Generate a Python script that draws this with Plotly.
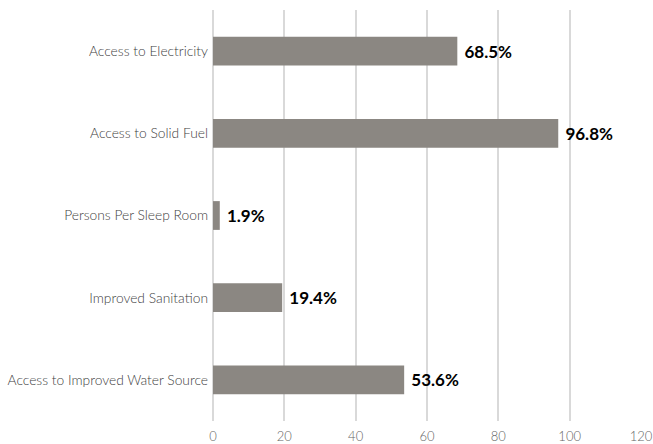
import plotly.graph_objects as go

categories = ["Access to Improved Water Source", "Improved Sanitation", "Persons Per Sleep Room",
              "Access to Solid Fuel", "Access to Electricity"]
values = [53.6, 19.4, 1.9, 96.8, 68.5]
tick_vals = [0, 20, 40, 60, 80, 100, 120]

fig = go.Figure()
fig.add_trace(go.Bar(
    y=categories, x=values, orientation="h",
    marker=dict(color="#8b8782", line=dict(width=0)),
    width=0.35,
    text=[f"{v}%" for v in values],
    texttemplate=" %{text}",
    textposition="outside",
    cliponaxis=False,
    textfont=dict(family="Lato, 'Open Sans', sans-serif", size=17, color="#000000", weight="bold"),
))
fig.update_layout(
    width=653, height=444,
    margin=dict(l=213, r=12, t=10, b=23, autoexpand=False),
    paper_bgcolor="white", plot_bgcolor="white",
    showlegend=False,
    font=dict(family="Lato, 'Open Sans', sans-serif", size=13.8, color="#404040", weight=300),
    bargap=0.65,
)
fig.update_xaxes(range=[0, 120], tickvals=tick_vals, showgrid=True, gridcolor="#d9d9d9",
                 gridwidth=2, zeroline=True, zerolinecolor="#d9d9d9", zerolinewidth=2,
                 showline=False, ticks="", automargin=False, ticklabelstandoff=6,
                 tickfont=dict(size=13, color="#666666", weight=300))
fig.update_yaxes(showgrid=False, zeroline=False, showline=False, ticks="", ticklabelstandoff=4,
                 automargin=False, tickfont=dict(size=13.8, color="#404040", weight=300))
fig.write_html("out.html")
